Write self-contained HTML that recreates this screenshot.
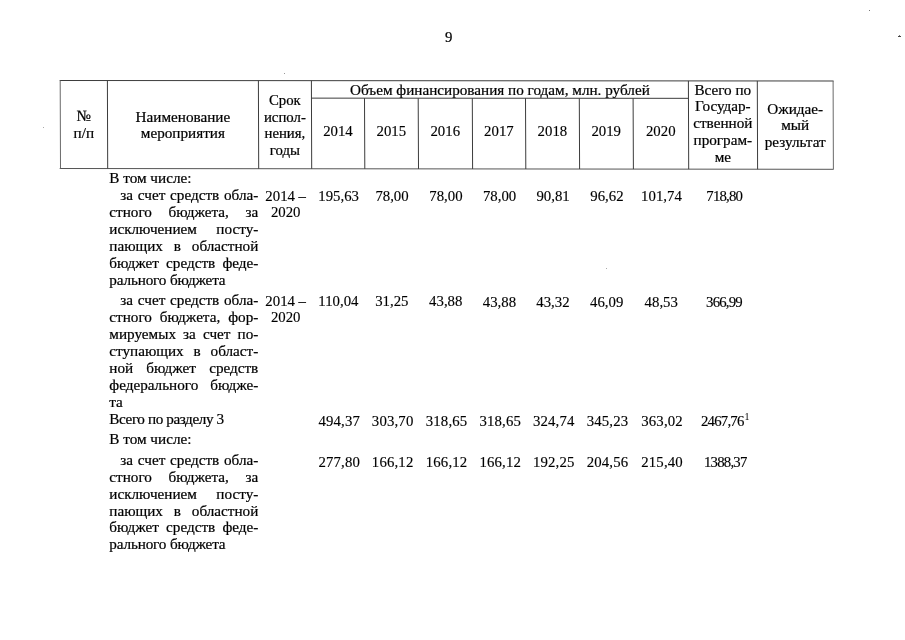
<!DOCTYPE html>
<html lang="ru"><head><meta charset="utf-8"><title>9</title>
<style>
html,body{margin:0;padding:0;background:#fff;}
body{width:905px;height:640px;position:relative;overflow:hidden;font-family:"Liberation Serif","DejaVu Serif",serif;font-size:15.2px;color:#000;}
.t{position:absolute;white-space:nowrap;transform:scaleY(1.02);line-height:17px;height:17px;-webkit-text-stroke:0.22px #000;}
.n{-webkit-text-stroke:0.15px #000;font-size:14.8px;}
.lines{position:absolute;left:0;top:0;}
.sp{position:absolute;}
sup{font-size:10px;line-height:0;vertical-align:6px;letter-spacing:0;-webkit-text-stroke:0;margin-left:1px}
</style></head><body>
<svg class="lines" width="905" height="640" viewBox="0 0 905 640"><g stroke="#3c3c3c" stroke-width="1" fill="none"><line x1="59.7" y1="80.5" x2="833.6" y2="81.0"/><line x1="59.7" y1="168.5" x2="833.6" y2="169.3" stroke="#555"/><line x1="311.4" y1="98.13" x2="688.4" y2="98.33"/><line x1="60.2" y1="80.50" x2="60.5" y2="168.50" stroke="#6a6a6a"/><line x1="107.4" y1="80.53" x2="107.7" y2="168.55"/><line x1="258.4" y1="80.63" x2="258.7" y2="168.71"/><line x1="311.4" y1="80.66" x2="311.7" y2="168.76"/><line x1="364.5" y1="98.16" x2="364.8" y2="168.81"/><line x1="418.2" y1="98.19" x2="418.5" y2="168.87"/><line x1="472.3" y1="98.21" x2="472.6" y2="168.93"/><line x1="525.5" y1="98.24" x2="525.8" y2="168.98"/><line x1="579.3" y1="98.27" x2="579.5999999999999" y2="169.04"/><line x1="633.1" y1="98.30" x2="633.4" y2="169.09"/><line x1="688.4" y1="80.91" x2="688.6999999999999" y2="169.15"/><line x1="757.3" y1="80.95" x2="757.5999999999999" y2="169.22"/><line x1="833.1" y1="81.00" x2="833.4" y2="169.30" stroke="#6a6a6a"/></g></svg>
<div class="sp" style="left:869px;top:10px;width:1px;height:1px;background:#777"></div>
<div class="sp" style="left:898px;top:36px;width:3px;height:1px;background:#444"></div>
<div class="sp" style="left:899px;top:35px;width:1px;height:1px;background:#777"></div>
<div class="sp" style="left:284px;top:73px;width:1px;height:1px;background:#999"></div>
<div class="sp" style="left:43px;top:127px;width:1px;height:1px;background:#aaa"></div>
<div class="sp" style="left:606px;top:268px;width:1px;height:1px;background:#aaa"></div>
<div class="t" style="left:440.6px;top:29px;line-height:16px;height:16px;transform-origin:0 13px;width:16.0px;text-align:center;font-size:14.8px;">9</div>
<div class="t" style="left:60.2px;top:107px;line-height:17px;height:17px;transform-origin:0 14px;width:47.2px;text-align:center;">№</div>
<div class="t" style="left:60.2px;top:124px;line-height:17px;height:17px;transform-origin:0 14px;width:47.2px;text-align:center;">п/п</div>
<div class="t" style="left:107.4px;top:108px;line-height:17px;height:17px;transform-origin:0 14px;width:151.0px;text-align:center;">Наименование</div>
<div class="t" style="left:107.4px;top:124px;line-height:17px;height:17px;transform-origin:0 14px;width:151.0px;text-align:center;">мероприятия</div>
<div class="t" style="left:258.4px;top:92px;line-height:16px;height:16px;transform-origin:0 13px;width:53.0px;text-align:center;font-size:14.8px;">Срок</div>
<div class="t" style="left:258.4px;top:109px;line-height:16px;height:16px;transform-origin:0 13px;width:53.0px;text-align:center;font-size:14.8px;">испол-</div>
<div class="t" style="left:258.4px;top:125px;line-height:16px;height:16px;transform-origin:0 13px;width:53.0px;text-align:center;font-size:14.8px;">нения,</div>
<div class="t" style="left:258.4px;top:142px;line-height:16px;height:16px;transform-origin:0 13px;width:53.0px;text-align:center;font-size:14.8px;">годы</div>
<div class="t" style="left:311.4px;top:81px;line-height:17px;height:17px;transform-origin:0 14px;width:377.0px;text-align:center;">Объем финансирования по годам, млн. рублей</div>
<div class="t n" style="left:311.4px;top:123px;line-height:16px;height:16px;transform-origin:0 13px;width:53.1px;text-align:center;">2014</div>
<div class="t n" style="left:364.5px;top:123px;line-height:16px;height:16px;transform-origin:0 13px;width:53.7px;text-align:center;">2015</div>
<div class="t n" style="left:418.2px;top:123px;line-height:16px;height:16px;transform-origin:0 13px;width:54.1px;text-align:center;">2016</div>
<div class="t n" style="left:472.3px;top:123px;line-height:16px;height:16px;transform-origin:0 13px;width:53.2px;text-align:center;">2017</div>
<div class="t n" style="left:525.5px;top:123px;line-height:16px;height:16px;transform-origin:0 13px;width:53.8px;text-align:center;">2018</div>
<div class="t n" style="left:579.3px;top:123px;line-height:16px;height:16px;transform-origin:0 13px;width:53.8px;text-align:center;">2019</div>
<div class="t n" style="left:633.1px;top:123px;line-height:16px;height:16px;transform-origin:0 13px;width:55.3px;text-align:center;">2020</div>
<div class="t" style="left:688.4px;top:81px;line-height:17px;height:17px;transform-origin:0 14px;width:68.9px;text-align:center;">Всего по</div>
<div class="t" style="left:688.4px;top:97px;line-height:17px;height:17px;transform-origin:0 14px;width:68.9px;text-align:center;">Государ-</div>
<div class="t" style="left:688.4px;top:114px;line-height:17px;height:17px;transform-origin:0 14px;width:68.9px;text-align:center;">ственной</div>
<div class="t" style="left:688.4px;top:131px;line-height:17px;height:17px;transform-origin:0 14px;width:68.9px;text-align:center;">програм-</div>
<div class="t" style="left:688.4px;top:148px;line-height:17px;height:17px;transform-origin:0 14px;width:68.9px;text-align:center;">ме</div>
<div class="t" style="left:757.3px;top:100px;line-height:17px;height:17px;transform-origin:0 14px;width:75.8px;text-align:center;">Ожидае-</div>
<div class="t" style="left:757.3px;top:116px;line-height:17px;height:17px;transform-origin:0 14px;width:75.8px;text-align:center;">мый</div>
<div class="t" style="left:757.3px;top:133px;line-height:17px;height:17px;transform-origin:0 14px;width:75.8px;text-align:center;">результат</div>
<div class="t" style="left:109.3px;top:169px;line-height:17px;height:17px;transform-origin:0 14px;width:149.0px;">В том числе:</div>
<div class="t" style="left:120.3px;top:186px;line-height:17px;height:17px;transform-origin:0 14px;width:138.0px;text-align:justify;text-align-last:justify;">за счет средств обла-</div>
<div class="t" style="left:109.3px;top:203px;line-height:17px;height:17px;transform-origin:0 14px;width:149.0px;text-align:justify;text-align-last:justify;">стного бюджета, за</div>
<div class="t" style="left:109.3px;top:220px;line-height:17px;height:17px;transform-origin:0 14px;width:149.0px;text-align:justify;text-align-last:justify;">исключением посту-</div>
<div class="t" style="left:109.3px;top:237px;line-height:17px;height:17px;transform-origin:0 14px;width:149.0px;text-align:justify;text-align-last:justify;">пающих в областной</div>
<div class="t" style="left:109.3px;top:254px;line-height:17px;height:17px;transform-origin:0 14px;width:149.0px;text-align:justify;text-align-last:justify;">бюджет средств феде-</div>
<div class="t" style="left:109.3px;top:271px;line-height:17px;height:17px;transform-origin:0 14px;width:149.0px;letter-spacing:-0.15px;">рального бюджета</div>
<div class="t n" style="left:259.2px;top:188px;line-height:16px;height:16px;transform-origin:0 13px;width:53.0px;text-align:center;">2014 –</div>
<div class="t n" style="left:259.2px;top:204px;line-height:16px;height:16px;transform-origin:0 13px;width:53.0px;text-align:center;">2020</div>
<div class="t n" style="left:312.1px;top:188px;line-height:16px;height:16px;transform-origin:0 13px;width:53.1px;text-align:center;">195,63</div>
<div class="t n" style="left:365.2px;top:188px;line-height:16px;height:16px;transform-origin:0 13px;width:53.7px;text-align:center;">78,00</div>
<div class="t n" style="left:418.9px;top:188px;line-height:16px;height:16px;transform-origin:0 13px;width:54.1px;text-align:center;">78,00</div>
<div class="t n" style="left:473.0px;top:188px;line-height:16px;height:16px;transform-origin:0 13px;width:53.2px;text-align:center;">78,00</div>
<div class="t n" style="left:526.2px;top:188px;line-height:16px;height:16px;transform-origin:0 13px;width:53.8px;text-align:center;">90,81</div>
<div class="t n" style="left:580.0px;top:188px;line-height:16px;height:16px;transform-origin:0 13px;width:53.8px;text-align:center;">96,62</div>
<div class="t n" style="left:633.8px;top:188px;line-height:16px;height:16px;transform-origin:0 13px;width:55.3px;text-align:center;">101,74</div>
<div class="t n" style="left:689.8px;top:188px;line-height:16px;height:16px;transform-origin:0 13px;width:68.9px;text-align:center;letter-spacing:-0.8px;">718,80</div>
<div class="t" style="left:120.3px;top:291px;line-height:17px;height:17px;transform-origin:0 14px;width:138.0px;text-align:justify;text-align-last:justify;">за счет средств обла-</div>
<div class="t" style="left:109.3px;top:308px;line-height:17px;height:17px;transform-origin:0 14px;width:149.0px;text-align:justify;text-align-last:justify;">стного бюджета, фор-</div>
<div class="t" style="left:109.3px;top:325px;line-height:17px;height:17px;transform-origin:0 14px;width:149.0px;text-align:justify;text-align-last:justify;">мируемых за счет по-</div>
<div class="t" style="left:109.3px;top:342px;line-height:17px;height:17px;transform-origin:0 14px;width:149.0px;text-align:justify;text-align-last:justify;">ступающих в област-</div>
<div class="t" style="left:109.3px;top:359px;line-height:17px;height:17px;transform-origin:0 14px;width:149.0px;text-align:justify;text-align-last:justify;">ной бюджет средств</div>
<div class="t" style="left:109.3px;top:376px;line-height:17px;height:17px;transform-origin:0 14px;width:149.0px;text-align:justify;text-align-last:justify;">федерального бюдже-</div>
<div class="t" style="left:109.3px;top:393px;line-height:17px;height:17px;transform-origin:0 14px;width:149.0px;">та</div>
<div class="t n" style="left:259.2px;top:293px;line-height:16px;height:16px;transform-origin:0 13px;width:53.0px;text-align:center;">2014 –</div>
<div class="t n" style="left:259.2px;top:309px;line-height:16px;height:16px;transform-origin:0 13px;width:53.0px;text-align:center;">2020</div>
<div class="t n" style="left:311.9px;top:293px;line-height:16px;height:16px;transform-origin:0 13px;width:53.1px;text-align:center;">110,04</div>
<div class="t n" style="left:365.0px;top:293px;line-height:16px;height:16px;transform-origin:0 13px;width:53.7px;text-align:center;">31,25</div>
<div class="t n" style="left:418.7px;top:293px;line-height:16px;height:16px;transform-origin:0 13px;width:54.1px;text-align:center;">43,88</div>
<div class="t n" style="left:472.8px;top:294px;line-height:16px;height:16px;transform-origin:0 13px;width:53.2px;text-align:center;">43,88</div>
<div class="t n" style="left:526.0px;top:294px;line-height:16px;height:16px;transform-origin:0 13px;width:53.8px;text-align:center;">43,32</div>
<div class="t n" style="left:579.8px;top:294px;line-height:16px;height:16px;transform-origin:0 13px;width:53.8px;text-align:center;">46,09</div>
<div class="t n" style="left:633.6px;top:294px;line-height:16px;height:16px;transform-origin:0 13px;width:55.3px;text-align:center;">48,53</div>
<div class="t n" style="left:689.6px;top:294px;line-height:16px;height:16px;transform-origin:0 13px;width:68.9px;text-align:center;letter-spacing:-0.8px;">366,99</div>
<div class="t" style="left:109.3px;top:410px;line-height:17px;height:17px;transform-origin:0 14px;width:149.0px;letter-spacing:-0.4px;">Всего по разделу 3</div>
<div class="t n" style="left:312.7px;top:413px;line-height:16px;height:16px;transform-origin:0 13px;width:53.1px;text-align:center;letter-spacing:0.15px;">494,37</div>
<div class="t n" style="left:365.8px;top:413px;line-height:16px;height:16px;transform-origin:0 13px;width:53.7px;text-align:center;letter-spacing:0.15px;">303,70</div>
<div class="t n" style="left:419.5px;top:413px;line-height:16px;height:16px;transform-origin:0 13px;width:54.1px;text-align:center;letter-spacing:0.15px;">318,65</div>
<div class="t n" style="left:473.6px;top:413px;line-height:16px;height:16px;transform-origin:0 13px;width:53.2px;text-align:center;letter-spacing:0.15px;">318,65</div>
<div class="t n" style="left:526.8px;top:413px;line-height:16px;height:16px;transform-origin:0 13px;width:53.8px;text-align:center;letter-spacing:0.15px;">324,74</div>
<div class="t n" style="left:580.6px;top:413px;line-height:16px;height:16px;transform-origin:0 13px;width:53.8px;text-align:center;letter-spacing:0.15px;">345,23</div>
<div class="t n" style="left:634.4px;top:413px;line-height:16px;height:16px;transform-origin:0 13px;width:55.3px;text-align:center;letter-spacing:0.15px;">363,02</div>
<div class="t n" style="left:690.8px;top:413px;line-height:16px;height:16px;transform-origin:0 13px;width:68.9px;text-align:center;letter-spacing:-0.8px;">2467,76<sup>1</sup></div>
<div class="t" style="left:109.3px;top:430px;line-height:17px;height:17px;transform-origin:0 14px;width:149.0px;">В том числе:</div>
<div class="t" style="left:120.3px;top:451px;line-height:17px;height:17px;transform-origin:0 14px;width:138.0px;text-align:justify;text-align-last:justify;">за счет средств обла-</div>
<div class="t" style="left:109.3px;top:468px;line-height:17px;height:17px;transform-origin:0 14px;width:149.0px;text-align:justify;text-align-last:justify;">стного бюджета, за</div>
<div class="t" style="left:109.3px;top:485px;line-height:17px;height:17px;transform-origin:0 14px;width:149.0px;text-align:justify;text-align-last:justify;">исключением посту-</div>
<div class="t" style="left:109.3px;top:502px;line-height:17px;height:17px;transform-origin:0 14px;width:149.0px;text-align:justify;text-align-last:justify;">пающих в областной</div>
<div class="t" style="left:109.3px;top:518px;line-height:17px;height:17px;transform-origin:0 14px;width:149.0px;text-align:justify;text-align-last:justify;">бюджет средств феде-</div>
<div class="t" style="left:109.3px;top:535px;line-height:17px;height:17px;transform-origin:0 14px;width:149.0px;letter-spacing:-0.15px;">рального бюджета</div>
<div class="t n" style="left:312.7px;top:454px;line-height:16px;height:16px;transform-origin:0 13px;width:53.1px;text-align:center;letter-spacing:0.15px;">277,80</div>
<div class="t n" style="left:365.8px;top:454px;line-height:16px;height:16px;transform-origin:0 13px;width:53.7px;text-align:center;letter-spacing:0.15px;">166,12</div>
<div class="t n" style="left:419.5px;top:454px;line-height:16px;height:16px;transform-origin:0 13px;width:54.1px;text-align:center;letter-spacing:0.15px;">166,12</div>
<div class="t n" style="left:473.6px;top:454px;line-height:16px;height:16px;transform-origin:0 13px;width:53.2px;text-align:center;letter-spacing:0.15px;">166,12</div>
<div class="t n" style="left:526.8px;top:454px;line-height:16px;height:16px;transform-origin:0 13px;width:53.8px;text-align:center;letter-spacing:0.15px;">192,25</div>
<div class="t n" style="left:580.6px;top:454px;line-height:16px;height:16px;transform-origin:0 13px;width:53.8px;text-align:center;letter-spacing:0.15px;">204,56</div>
<div class="t n" style="left:634.4px;top:454px;line-height:16px;height:16px;transform-origin:0 13px;width:55.3px;text-align:center;letter-spacing:0.15px;">215,40</div>
<div class="t n" style="left:690.8px;top:454px;line-height:16px;height:16px;transform-origin:0 13px;width:68.9px;text-align:center;letter-spacing:-0.8px;">1388,37</div>
</body></html>
